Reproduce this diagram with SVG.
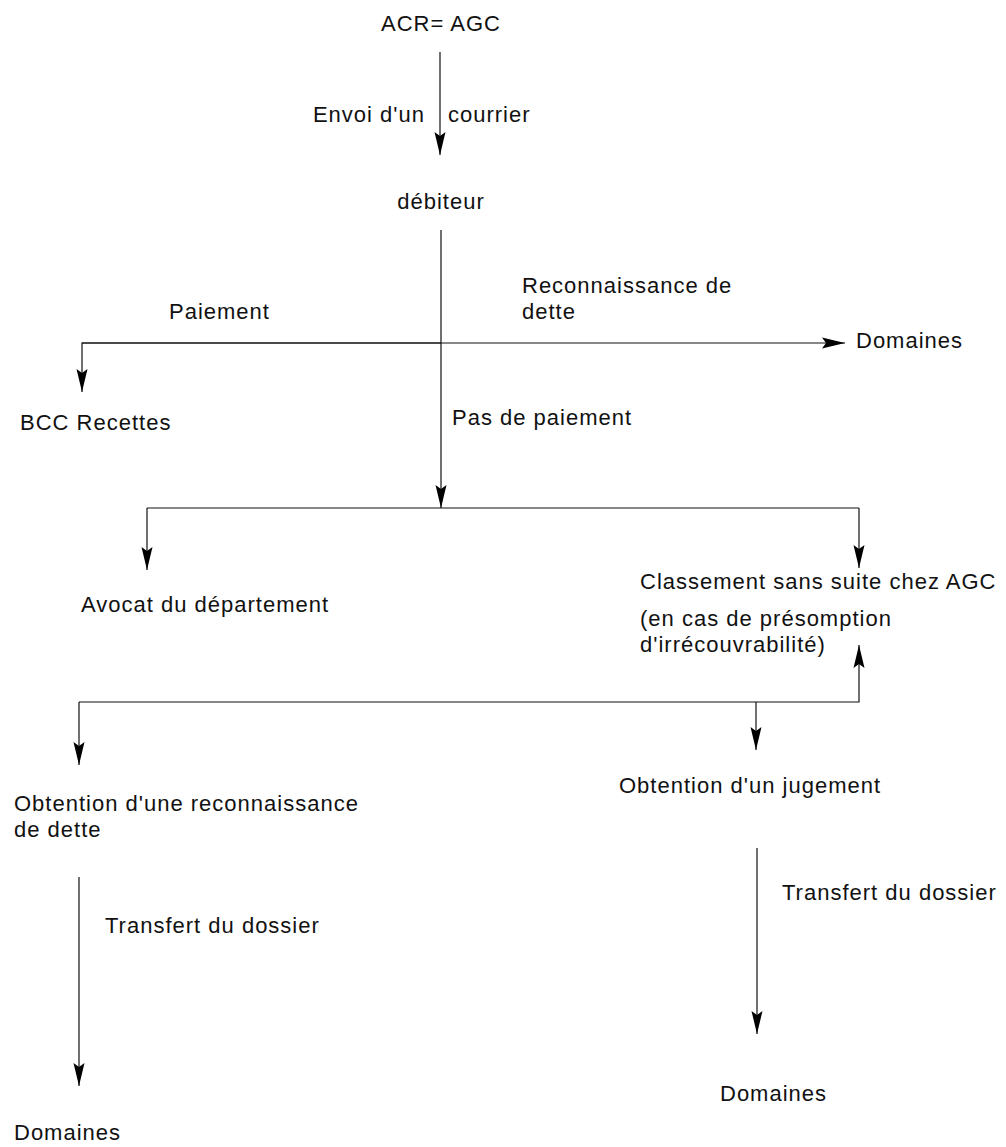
<svg xmlns="http://www.w3.org/2000/svg" width="1006" height="1147" viewBox="0 0 1006 1147">
<style>
text{font-family:"Liberation Sans",Arial,sans-serif;font-size:22px;letter-spacing:1px;fill:#111}
.c{stroke:#111;stroke-width:1.2;fill:none}
</style>
<defs>
<marker id="ah" markerUnits="userSpaceOnUse" markerWidth="24" markerHeight="14" viewBox="-23 -6 24 12" refX="0" refY="0" orient="auto">
<path d="M0,0 L-23,-5.5 L-19,0 L-23,5.5 Z" fill="#000"/>
</marker>
</defs>
<rect width="1006" height="1147" fill="#fff"/>
<g id="connectors">
<line class="c" x1="440" y1="52" x2="440" y2="155" marker-end="url(#ah)"/>
<line class="c" x1="441" y1="230" x2="441" y2="508" marker-end="url(#ah)"/>
<polyline class="c" points="82,343 845,343" marker-end="url(#ah)"/>
<polyline class="c" points="441,343 82,343 82,392" marker-end="url(#ah)"/>
<polyline class="c" points="147,508 859,508"/>
<line class="c" x1="147" y1="508" x2="147" y2="570" marker-end="url(#ah)"/>
<line class="c" x1="859" y1="508" x2="859" y2="568" marker-end="url(#ah)"/>
<polyline class="c" points="79,702 859,702 859,645" marker-end="url(#ah)"/>
<line class="c" x1="79" y1="702" x2="79" y2="765" marker-end="url(#ah)"/>
<line class="c" x1="756" y1="702" x2="756" y2="750" marker-end="url(#ah)"/>
<line class="c" x1="79" y1="877" x2="79" y2="1086" marker-end="url(#ah)"/>
<line class="c" x1="757" y1="848" x2="757" y2="1034" marker-end="url(#ah)"/>
</g>
<g id="n-acr"><text x="441" y="31" text-anchor="middle">ACR= AGC</text></g>
<g id="l-envoi"><text x="425" y="122" text-anchor="end">Envoi d'un</text><text x="448" y="122">courrier</text></g>
<g id="n-debiteur"><text x="441" y="209" text-anchor="middle">débiteur</text></g>
<g id="l-paiement"><text x="169" y="319">Paiement</text></g>
<g id="l-reco"><text x="522" y="293">Reconnaissance de</text><text x="522" y="319">dette</text></g>
<g id="n-domaines1"><text x="856" y="348">Domaines</text></g>
<g id="n-bcc"><text x="20" y="430">BCC Recettes</text></g>
<g id="l-pasdepaiement"><text x="452" y="425">Pas de paiement</text></g>
<g id="n-avocat"><text x="81" y="612">Avocat du département</text></g>
<g id="n-classement"><text x="640" y="589">Classement sans suite chez AGC</text><text x="640" y="626">(en cas de présomption</text><text x="640" y="652">d'irrécouvrabilité)</text></g>
<g id="n-obt-reco"><text x="14" y="811">Obtention d'une reconnaissance</text><text x="14" y="837">de dette</text></g>
<g id="n-obt-jug"><text x="619" y="793">Obtention d'un jugement</text></g>
<g id="l-transfert1"><text x="105" y="933">Transfert du dossier</text></g>
<g id="l-transfert2"><text x="782" y="900">Transfert du dossier</text></g>
<g id="n-domaines2"><text x="720" y="1101">Domaines</text></g>
<g id="n-domaines3"><text x="14" y="1140">Domaines</text></g>
</svg>
